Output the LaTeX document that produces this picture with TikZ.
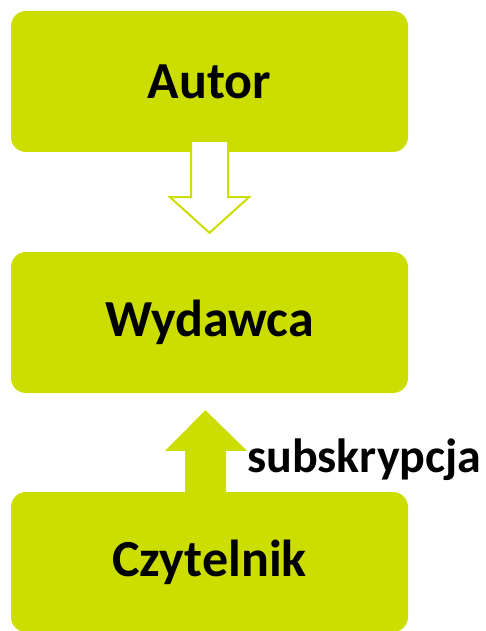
\documentclass[tikz,border=0pt]{standalone}
\usepackage{fontspec}
\setmainfont{Carlito}
\definecolor{lime}{RGB}{204,221,0}
\begin{document}
\begin{tikzpicture}[x=1pt,y=-1pt,
  box/.style={fill=lime, rounded corners=15pt, minimum width=397pt, minimum height=141pt, inner sep=0pt,
    font=\fontsize{52}{60}\selectfont\bfseries},
  lbl/.style={font=\fontsize{48}{56}\selectfont\bfseries, inner sep=0pt}]
\useasboundingbox (0,0) rectangle (486,631);
\path (209.5,81.5) node[box] (autor) {};
\path (209.5,322.5) node[box] (wyd) {};
\path (209.5,562) node[box, minimum height=140pt] (czyt) {};
% hollow arrow
\draw[lime, line width=2pt, fill=white, line join=miter]
  ([xshift=-18.5pt,yshift=10pt]autor.south) -- ([xshift=-18.5pt,yshift=-45pt]autor.south)
  -- ([xshift=-39.5pt,yshift=-45pt]autor.south) -- ([yshift=19pt]wyd.north)
  -- ([xshift=39.5pt,yshift=-45pt]autor.south) -- ([xshift=18.5pt,yshift=-45pt]autor.south)
  -- ([xshift=18.5pt,yshift=10pt]autor.south);
% solid arrow
\fill[lime]
  ([xshift=-24.5pt,yshift=-2pt]czyt.north) -- ([xshift=-24.5pt,yshift=41pt]czyt.north)
  -- ([xshift=-44.5pt,yshift=41pt]czyt.north) -- ([xshift=-4pt,yshift=-17pt]wyd.south)
  -- ([xshift=37.5pt,yshift=41pt]czyt.north) -- ([xshift=16.5pt,yshift=41pt]czyt.north)
  -- ([xshift=16.5pt,yshift=-2pt]czyt.north) -- cycle;
\path (autor) node[box, fill=none] {Autor};
\path (wyd) node[box, fill=none] {Wydawca};
\path (czyt) node[box, fill=none] {Czytelnik};
\node[lbl, anchor=base west] (sub) at (247,472) {subskrypcja};
\end{tikzpicture}
\end{document}
